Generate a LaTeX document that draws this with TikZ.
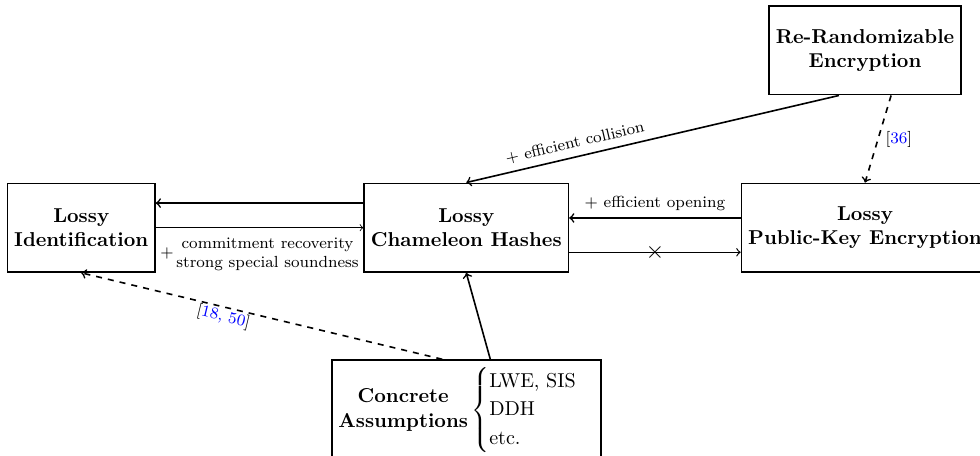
\documentclass[tikz,border=0pt]{standalone}
\usepackage{amsmath}
\usepackage{amssymb}
\usepackage{tikz}
\usetikzlibrary{calc,arrows}

\tikzset{
    notion/.style={draw, thick, rectangle, align=center, minimum height=1.55cm, font=\bfseries},
    implies/.style={->, thick},
    cited/.style={->, thick, dashed},
    lbl/.style={font=\footnotesize}
}
\newcommand{\refcite}[1]{\textcolor{blue}{#1}}

\begin{document}
\begin{tikzpicture}
        \useasboundingbox (0,0) rectangle (17.13,7.97);

        % Notions
        \node[notion] (LI) at (1.42,3.99) {Lossy\\Identification};
        \node[notion] (LCH) at (8.15,3.99) {Lossy\\Chameleon Hashes};
        \node[notion] (LPKE) at (15.12,3.99) {Lossy\\Public-Key Encryption};
        \node[notion] (REnc) at (15.12,7.09) {Re-Randomizable\\Encryption};
        \node[draw, thick, rectangle, text width=4.47cm, align=left] (CA) at (8.15,0.80) {%
            \begin{tabular}{@{}c@{}}\textbf{Concrete}\\\textbf{Assumptions}\end{tabular}%
            $\,\begin{cases}\text{LWE, SIS}\\ \text{DDH}\\ \text{etc.}\end{cases}$};

        % LCH <-> LI
        \draw[implies] ([yshift=0.43cm]LCH.west) -- ([yshift=0.43cm]LI.east);
        \draw[->] (LI.east) -- (LCH.west)
            node[midway, below, lbl]{$+$\begin{tabular}{@{\,}c@{}}commitment recoverity\\strong special soundness\end{tabular}};

        % LPKE <-> LCH
        \draw[implies] ([yshift=0.17cm]LPKE.west) -- ([yshift=0.17cm]LCH.east)
            node[midway, above, lbl]{$+$ efficient opening};
        \draw[->, semithick] ([yshift=-0.43cm]LCH.east) -- ([yshift=-0.43cm]LPKE.west)
            node[midway]{\large$\times$};

        % Re-randomizable encryption
        \draw[implies] (REnc.240) -- (LCH.north)
            node[pos=0.7, above, sloped, lbl]{$+$ efficient collision};
        \draw[cited] (REnc.300) -- (LPKE.north)
            node[midway, right, lbl]{[\refcite{36}]};

        % Concrete assumptions
        \draw[implies] ([xshift=0.42cm]CA.north) -- (LCH.south);
        \draw[cited] ([xshift=-0.42cm]CA.north) -- (LI.south)
            node[pos=0.6, below, sloped, lbl, inner sep=0.5pt]{[\refcite{18, 50}]};
    \end{tikzpicture}
\end{document}
